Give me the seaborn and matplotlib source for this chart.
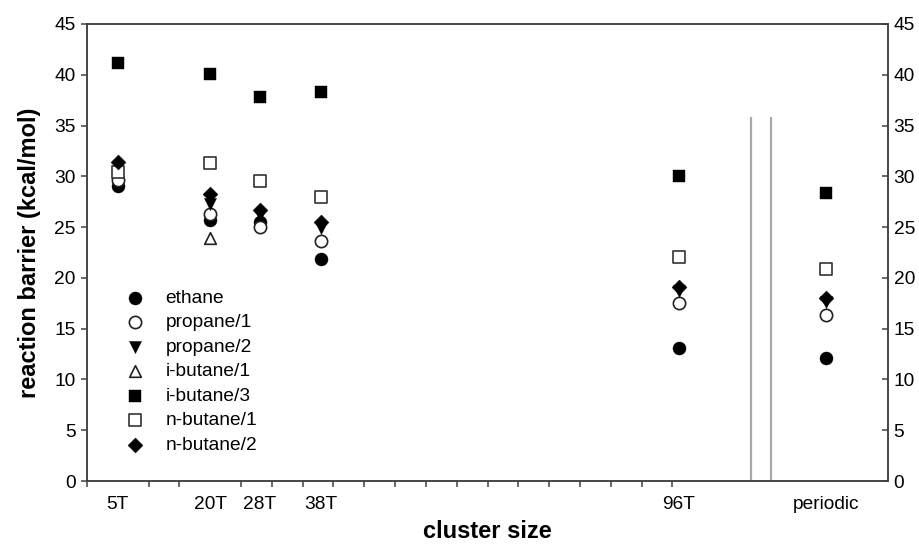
import matplotlib
matplotlib.use("Agg")
from matplotlib import pyplot as plt
import seaborn as sns
import numpy as np

# cluster sizes (T atoms), "periodic" placed after the axis break
cluster_x = [5, 20, 28, 38, 96, 120]
cluster_labels = ['5T', '20T', '28T', '38T', '96T', 'periodic']

# reaction barriers [kcal/mol]
ethane = [29.0, 25.7, 25.5, 21.9, 13.1, 12.1]
propane_1 = [29.6, 26.3, 25.0, 23.6, 17.5, 16.3]
propane_2 = [30.9, 27.3, 26.2, 24.9, 18.7, 17.6]
i_butane_1 = [np.nan, 23.9, np.nan, np.nan, np.nan, np.nan]
i_butane_3 = [41.2, 40.1, 37.8, 38.3, 30.0, 28.4]
n_butane_1 = [30.4, 31.3, 29.5, 28.0, 22.1, 20.9]
n_butane_2 = [31.4, 28.3, 26.7, 25.5, 19.1, 18.0]

# axis break position
break_x = [107.8, 111.0]
break_top = 35.8

sns.set_theme(style='ticks')
plt.rcParams['font.family'] = ['Liberation Sans', 'DejaVu Sans']
plt.rcParams['text.color'] = 'black'
plt.rcParams['axes.labelcolor'] = 'black'
plt.rcParams['xtick.labelcolor'] = 'black'
plt.rcParams['ytick.labelcolor'] = 'black'

fig = plt.figure(figsize=(9.19, 5.45), dpi=100)
ax = fig.add_axes([0.0947, 0.1174, 0.8716, 0.8386])

axis_col = '#404040'
series = [
    ('ethane', ethane, 'o', 88, 'black', 'black', 0.3),
    ('propane/1', propane_1, 'o', 78, 'white', '#222222', 1.2),
    ('propane/2', propane_2, 'v', 76, 'black', 'black', 0.3),
    ('i-butane/1', i_butane_1, '^', 70, 'white', '#222222', 1.2),
    ('i-butane/3', i_butane_3, 's', 81, 'black', 'black', 0.3),
    ('n-butane/1', n_butane_1, 's', 70, 'white', '#333333', 1.2),
    ('n-butane/2', n_butane_2, 'D', 58, 'black', 'black', 0.3),
]
for name, vals, mk, size, face, edge, lw in series:
    sns.scatterplot(x=cluster_x, y=vals, marker=mk, s=size, color=face,
                    edgecolor=edge, linewidth=lw, label=name, ax=ax, zorder=3)

# axis break lines
ax.vlines(break_x, 0, break_top, colors='#a8a8a8', linewidth=1.6, zorder=2)

ax.set_xlim(0, 130)
ax.set_ylim(0, 45)
ax.set_yticks(range(0, 46, 5))
ax.set_xticks(cluster_x, cluster_labels)
ax.set_xticks(list(range(0, 100, 5)) + [120], minor=True)
ax.tick_params(axis='x', which='major', length=0, pad=11, labelsize=13.8)
ax.tick_params(axis='x', which='minor', length=4.3, width=1.1, direction='out', color=axis_col)
ax.tick_params(axis='y', length=4.3, width=1.1, direction='out', pad=4, labelsize=13.8, color=axis_col)

ax2 = ax.twinx()
ax2.set_ylim(0, 45)
ax2.set_yticks(range(0, 46, 5))
ax2.tick_params(axis='y', length=4.3, width=1.1, direction='in', pad=4, labelsize=13.8, color=axis_col)

for a in (ax, ax2):
    for sp in a.spines.values():
        sp.set_color(axis_col)
        sp.set_linewidth(1.1)
        sp.set_visible(True)

ax.set_xlabel('cluster size', fontsize=17, fontweight='bold')
ax.set_ylabel('reaction barrier (kcal/mol)', fontsize=17, fontweight='bold')
ax.xaxis.set_label_coords(0.5, -0.085)
ax.yaxis.set_label_coords(-0.058, 0.5)

ax.legend(loc='upper left', bbox_to_anchor=(0.0483, 0.419), frameon=False,
          borderpad=0, borderaxespad=0, handlelength=1.0, handletextpad=1.07,
          labelspacing=0.37, fontsize=13.8)

fig.savefig('out.png', dpi=100)
